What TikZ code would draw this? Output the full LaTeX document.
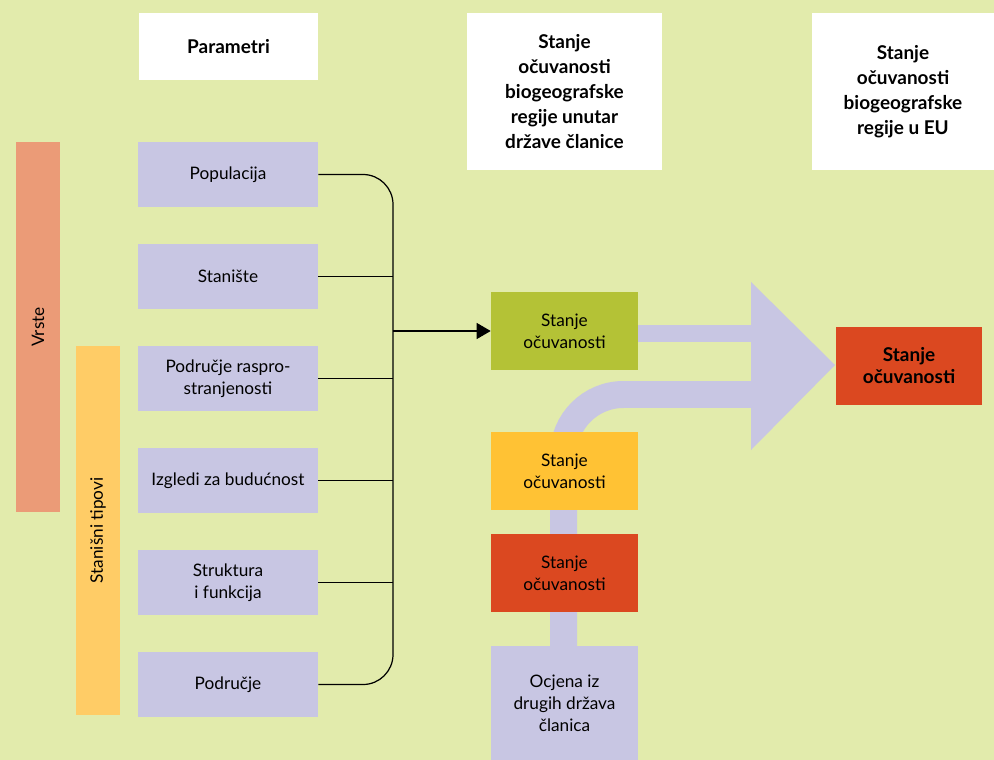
\documentclass[tikz,border=0pt]{standalone}
\usepackage{fontspec}
\setmainfont{Lato}
\usetikzlibrary{arrows.meta}

\definecolor{bgcol}{HTML}{E2EBAC}
\definecolor{lila}{HTML}{C8C6E3}
\definecolor{salmon}{HTML}{EB9B77}
\definecolor{sunny}{HTML}{FFCC66}
\definecolor{olive}{HTML}{B4C236}
\definecolor{amber}{HTML}{FFC234}
\definecolor{brick}{HTML}{DB4820}

\begin{document}
\begin{tikzpicture}[x=0.02cm, y=-0.02cm,
     every node/.style={font=\fontsize{9.8}{12.5}\selectfont, align=center, inner sep=0pt},
     param/.style={fill=lila, minimum width=3.6cm, minimum height=1.3cm},
     head/.style={fill=white, font=\fontsize{10.8}{14.2}\selectfont\bfseries},
     state/.style={minimum width=2.94cm, minimum height=1.56cm},
     bar/.style={rotate=90, minimum width=7.4cm, minimum height=0.88cm},
     band/.style={draw=lila, line width=#1}]

     \useasboundingbox[fill=bgcol] (0,0) rectangle (994,760);

     % headers
     \node (H1) at (228.5, 46.5) [head, minimum width=3.58cm, minimum height=1.34cm] {Parametri};
     \node (H2) at (564.5, 91.5) [head, minimum width=3.9cm, minimum height=3.14cm] {Stanje\\očuvanosti\\biogeografske\\regije unutar\\države članice};
     \node (H3) at (903, 91.5) [head, minimum width=3.64cm, minimum height=3.14cm] {Stanje\\očuvanosti\\biogeografske\\regije u EU};

     % side bars
     \node (V) at (38, 327) [bar, fill=salmon] {Vrste};
     \node (T) at (98, 530.5) [bar, fill=sunny] {Stanišni tipovi};

     % parameters
     \node (P1) at (228, 174.5) [param] {Populacija};
     \node (P2) at (228, 276.5) [param] {Stanište};
     \node (P3) at (228, 378.5) [param] {Područje raspro-\\stranjenosti};
     \node (P4) at (228, 480.5) [param] {Izgledi za budućnost};
     \node (P5) at (228, 582.5) [param] {Struktura\\i funkcija};
     \node (P6) at (228, 684.5) [param] {Područje};

     % big arrow behind the boxes
     \fill [lila] (751, 282) -- (835, 365) -- (751, 450) -- cycle;
     \draw [band=0.34cm] (564, 333.5) -- (760, 333.5);
     \draw [band=0.54cm, rounded corners=1.2cm] (563.5, 703) -- (563.5, 394.5) -- (760, 394.5);

     % states
     \node (S1) at (564.5, 331) [state, fill=olive] {Stanje\\očuvanosti};
     \node (S2) at (564.5, 471) [state, fill=amber] {Stanje\\očuvanosti};
     \node (S3) at (564.5, 573) [state, fill=brick] {Stanje\\očuvanosti};
     \node (O) at (564.5, 703) [fill=lila, minimum width=2.94cm, minimum height=2.28cm] {Ocjena iz\\drugih država\\članica};
     \node (EU) at (909, 366) [state, fill=brick, font=\fontsize{10.8}{12.5}\selectfont\bfseries] {Stanje\\očuvanosti};

     % bracket
     \coordinate (J) at (393, 331);
     \draw [line width=0.7pt, rounded corners=0.6cm] (P1.east) -| (J) |- (P6.east);
     \draw [line width=0.7pt] (P2.east) -- (P2.east -| J);
     \draw [line width=0.7pt] (P3.east) -- (P3.east -| J);
     \draw [line width=0.7pt] (P4.east) -- (P4.east -| J);
     \draw [line width=0.7pt] (P5.east) -- (P5.east -| J);
     \draw [line width=0.7pt, -{Triangle[length=0.28cm, width=0.32cm]}] (J) -- (S1.west);

 \end{tikzpicture}
\end{document}
